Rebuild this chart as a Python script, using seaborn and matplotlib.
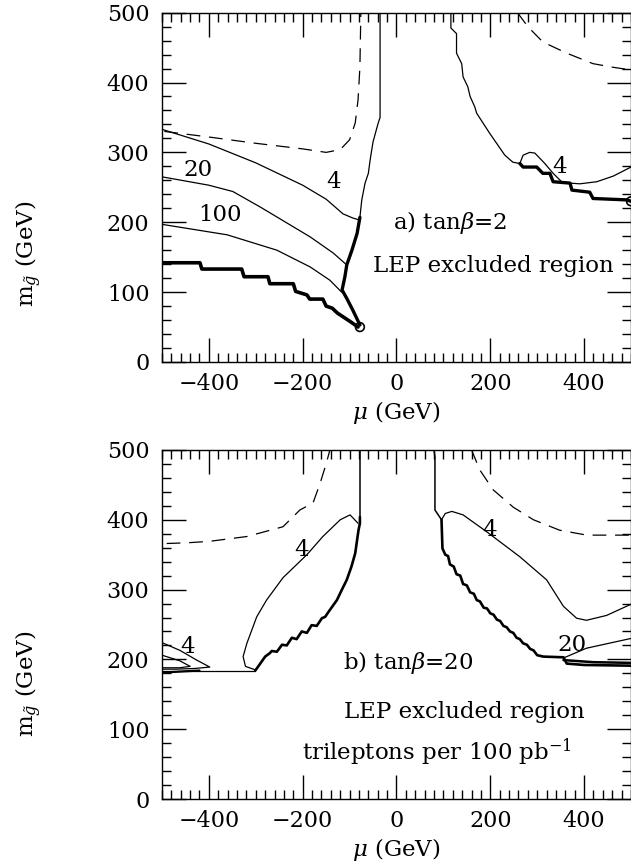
import numpy as np
import pandas as pd
import matplotlib
matplotlib.use("Agg")
import matplotlib.pyplot as plt
import seaborn as sns
from matplotlib.ticker import MultipleLocator, FuncFormatter

# ---- panel a) tan(beta)=2 ----
a_dash_left_x = [-495, -400, -300, -200, -150, -120, -100, -88, -82, -78, -76]
a_dash_left_y = [330, 322, 313, 305, 300, 304, 318, 342, 375, 422, 500]
a_dash_right_x = [258, 280, 312, 363, 419, 460, 500]
a_dash_right_y = [500, 480, 458, 442, 427, 422, 418]
a_c4_x = [-500, -400, -300, -200, -150, -114, -93, -78]
a_c4_y = [333, 312, 285, 253, 233, 212, 206, 203]
a_c20_x = [-500, -400, -349, -291, -184, -135, -108]
a_c20_y = [265, 253, 244, 222, 179, 156, 140]
a_c100_x = [-500, -361, -255, -184, -142, -117]
a_c100_y = [197, 182, 160, 136, 117, 100]
a_mid_x = [-35, -35, -39, -50, -56, -60, -67, -74, -78]
a_mid_y = [500, 350, 342, 315, 290, 270, 256, 232, 207]
a_mid_thick_x = [-78, -84, -95, -106, -110, -116, -106, -93, -78]
a_mid_thick_y = [207, 184, 160, 139, 122, 103, 91, 74, 53]
a_lep_left_x = [-500, -419, -415, -330, -325, -274, -270, -220, -215, -191, -185,
                -157, -150, -137, -126, -99, -82]
a_lep_left_y = [142, 142, 133, 133, 122, 122, 112, 112, 101, 96, 90, 90, 80, 77, 70, 58, 50]
a_right_x = [116, 116, 128, 128, 139, 142, 152, 157, 167, 171, 199, 231, 248, 263]
a_right_y = [500, 478, 470, 442, 427, 408, 394, 380, 365, 356, 327, 296, 286, 284]
a_lep_right_x = [263, 270, 299, 312, 327, 334, 370, 374, 412, 419, 491, 500]
a_lep_right_y = [284, 279, 279, 270, 270, 258, 256, 246, 243, 234, 232, 230]
a_loop4_x = [263, 270, 284, 295, 315, 334, 352]
a_loop4_y = [284, 296, 300, 299, 285, 270, 258]
a_c4r_x = [370, 391, 427, 462, 500]
a_c4r_y = [256, 255, 258, 266, 279]
a_dots_x = [-78, 500]
a_dots_y = [50, 230]

# ---- panel b) tan(beta)=20 ----
b_dash_left_x = [-490, -447, -400, -319, -242, -206, -178, -163, -150, -142]
b_dash_left_y = [366, 367, 369, 376, 390, 414, 424, 452, 480, 500]
b_dash_right_x = [160, 178, 206, 249, 292, 348, 406, 500]
b_dash_right_y = [500, 471, 443, 418, 400, 385, 378, 378]
b_mid_left_x = [-77, -77]
b_mid_left_y = [500, 402]
b_lep_left_x = [-78, -78, -81, -84, -88, -96, -106, -117, -127, -145, -152, -159,
                -170, -181, -191, -202, -213, -223, -234, -244, -255, -266, -270,
                -280, -301]
b_lep_left_y = [404, 395, 385, 371, 352, 333, 314, 299, 285, 268, 261, 259,
                248, 249, 238, 240, 229, 231, 220, 221, 211, 212, 209, 204, 184]
b_c4_left_x = [-301, -322, -327, -319, -298, -277, -242, -191, -157, -120, -99, -82]
b_c4_left_y = [185, 190, 204, 223, 261, 285, 317, 350, 376, 400, 407, 395]
b_base_x = [-500, -301]
b_base_y = [184, 184]
b_loop_out_x = [-500, -462, -426, -398, -430, -470, -500]
b_loop_out_y = [224, 213, 199, 189, 187, 186, 186]
b_loop_in_x = [-500, -462, -440, -462, -500]
b_loop_in_y = [206, 198, 190, 188, 188]
b_low_x = [-500, -450, -420]
b_low_y = [181, 183, 184]
b_mid_right_x = [80, 82, 82, 96]
b_mid_right_y = [500, 490, 414, 400]
b_lep_right_x = [96, 98, 104, 110, 114, 122, 128, 136, 142, 150, 157, 165, 171, 178,
                 186, 193, 200, 207, 214, 221, 228, 235, 242, 249, 256, 263, 270,
                 278, 285, 292, 300, 313, 356, 363, 400, 500]
b_lep_right_y = [400, 359, 350, 348, 336, 333, 322, 320, 308, 306, 296, 294, 285, 283,
                 274, 273, 266, 264, 257, 255, 248, 246, 240, 238, 231, 229, 223,
                 221, 215, 213, 206, 204, 203, 194, 192, 191]
b_c4_right_x = [96, 104, 118, 142, 192, 263, 320, 356, 384, 405, 448, 500]
b_c4_right_y = [400, 409, 412, 407, 383, 347, 314, 276, 259, 256, 263, 279]
b_c20_x = [356, 405, 500]
b_c20_y = [202, 216, 230]
b_extra_x = [356, 420, 500]
b_extra_y = [199, 196, 195]

sns.set_theme(style="ticks")
plt.rcParams["font.family"] = ["DejaVu Serif"]
plt.rcParams["mathtext.fontset"] = "dejavuserif"
plt.rcParams["text.color"] = "black"
plt.rcParams["axes.labelcolor"] = "black"
plt.rcParams["xtick.color"] = "black"
plt.rcParams["ytick.color"] = "black"

fig = plt.figure(figsize=(6.31, 8.61), dpi=100)
ax_a = fig.add_axes([0.2567, 0.5796, 0.7433, 0.4057])
ax_b = fig.add_axes([0.2567, 0.0720, 0.7433, 0.4054])

DASH = (0, (11, 7))


def line(ax, x, y, lw=0.9, ls="-"):
    sns.lineplot(x=x, y=y, ax=ax, sort=False, estimator=None, color="black",
                 linewidth=lw, linestyle=ls)


# panel a
line(ax_a, a_dash_left_x, a_dash_left_y, ls=DASH)
line(ax_a, a_dash_right_x, a_dash_right_y, ls=DASH)
line(ax_a, a_c4_x, a_c4_y)
line(ax_a, a_c20_x, a_c20_y)
line(ax_a, a_c100_x, a_c100_y)
line(ax_a, a_mid_x, a_mid_y)
line(ax_a, a_mid_thick_x, a_mid_thick_y, lw=2.4)
line(ax_a, a_lep_left_x, a_lep_left_y, lw=2.6)
line(ax_a, a_right_x, a_right_y)
line(ax_a, a_lep_right_x, a_lep_right_y, lw=2.4)
line(ax_a, a_loop4_x, a_loop4_y)
line(ax_a, a_c4r_x, a_c4r_y)
sns.scatterplot(x=a_dots_x, y=a_dots_y, ax=ax_a, marker="o", s=40,
                facecolor="none", edgecolor="black", linewidth=1.2, zorder=3)

# panel b
line(ax_b, b_dash_left_x, b_dash_left_y, ls=DASH)
line(ax_b, b_dash_right_x, b_dash_right_y, ls=DASH)
line(ax_b, b_mid_left_x, b_mid_left_y, lw=1.1)
line(ax_b, b_lep_left_x, b_lep_left_y, lw=1.9)
line(ax_b, b_c4_left_x, b_c4_left_y)
line(ax_b, b_base_x, b_base_y)
line(ax_b, b_loop_out_x, b_loop_out_y)
line(ax_b, b_loop_in_x, b_loop_in_y)
line(ax_b, b_low_x, b_low_y, lw=1.6)
line(ax_b, b_mid_right_x, b_mid_right_y, lw=1.1)
line(ax_b, b_lep_right_x, b_lep_right_y, lw=1.9)
line(ax_b, b_c4_right_x, b_c4_right_y)
line(ax_b, b_c20_x, b_c20_y)
line(ax_b, b_extra_x, b_extra_y, lw=1.8)

fs_tick = 16
fs = 16.5
for ax in (ax_a, ax_b):
    ax.set_xlim(-500, 500)
    ax.set_ylim(0, 500)
    ax.xaxis.set_major_locator(MultipleLocator(200))
    ax.xaxis.set_minor_locator(MultipleLocator(20))
    ax.yaxis.set_major_locator(MultipleLocator(100))
    ax.yaxis.set_minor_locator(MultipleLocator(20))
    ax.tick_params(which="both", direction="in", top=True, right=True,
                   color="black", width=1.0)
    ax.tick_params(which="major", length=17, labelsize=fs_tick, labelcolor="black")
    ax.tick_params(axis="x", which="major", pad=8)
    ax.tick_params(axis="y", which="major", pad=9)
    ax.tick_params(which="minor", length=6.5)
    ax.xaxis.set_major_formatter(FuncFormatter(
        lambda v, p: f"{int(v)}".replace("-", "\u2212")))
    for sp in ax.spines.values():
        sp.set_color("black")
        sp.set_linewidth(1.0)
    ax.set_xlabel(r"$\mu$ (GeV)", fontsize=fs, color="black")
    ax.set_ylabel(r"m$_{\tilde{g}}$ (GeV)", fontsize=fs, color="black")
    ax.xaxis.set_label_coords(0.5, -0.105)

ax_a.yaxis.set_label_coords(-0.252, 0.31)
ax_b.yaxis.set_label_coords(-0.252, 0.33)

# contour labels and captions
ax_a.text(-423, 275, "20", fontsize=fs, ha="center", va="center")
ax_a.text(-376, 210, "100", fontsize=fs, ha="center", va="center")
ax_a.text(-135, 257, "4", fontsize=fs, ha="center", va="center")
ax_a.text(348, 279, "4", fontsize=fs, ha="center", va="center")
ax_a.text(114, 200, r"a) tan$\beta$=2", fontsize=fs, ha="center", va="center")
ax_a.text(206, 137, "LEP excluded region", fontsize=fs, ha="center", va="center")

ax_b.text(-445, 218, "4", fontsize=fs, ha="center", va="center")
ax_b.text(-202, 357, "4", fontsize=fs, ha="center", va="center")
ax_b.text(199, 385, "4", fontsize=fs, ha="center", va="center")
ax_b.text(374, 220, "20", fontsize=fs, ha="center", va="center")
ax_b.text(25, 195, r"b) tan$\beta$=20", fontsize=fs, ha="center", va="center")
ax_b.text(144, 125, "LEP excluded region", fontsize=fs, ha="center", va="center")
ax_b.text(86, 67, r"trileptons per 100 pb$^{-1}$", fontsize=fs, ha="center", va="center")

fig.savefig("out.png", dpi=100)
